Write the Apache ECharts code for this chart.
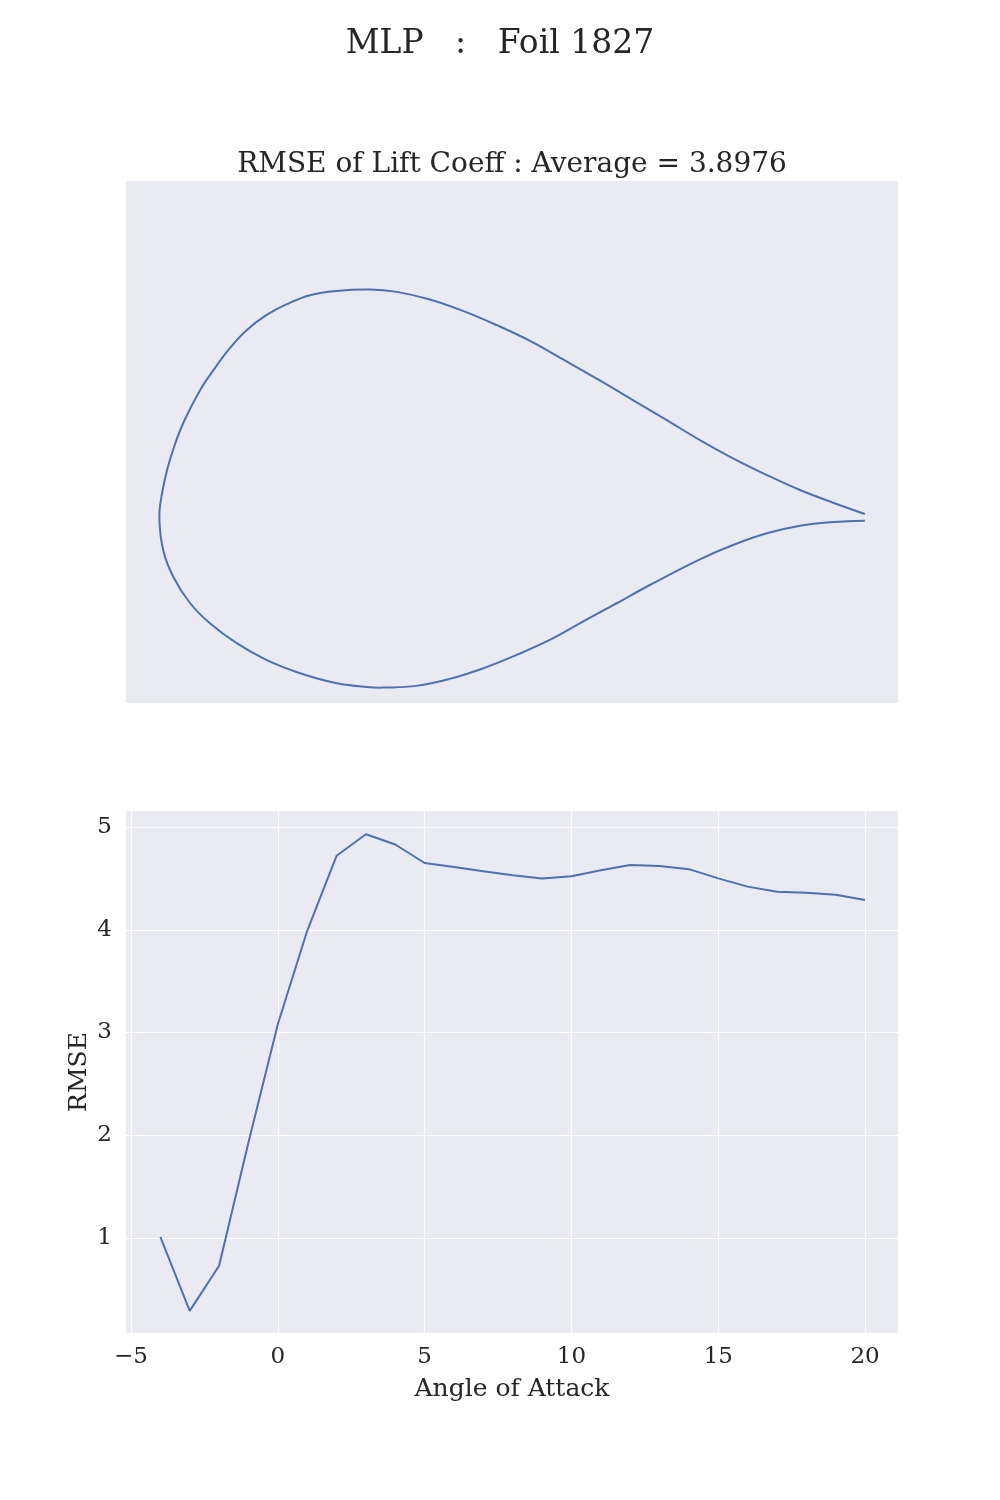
<!DOCTYPE html>
<html>
<head>
<meta charset="utf-8">
<title>MLP : Foil 1827</title>
<script src="https://cdn.jsdelivr.net/npm/echarts@6/dist/echarts.min.js"></script>
<style>
  html, body { margin: 0; padding: 0; background: #fff; }
  #chart { width: 1000px; height: 1500px; }
</style>
</head>
<body>
<div id="chart"></div>
<script>
// foil contour, upper surface TE -> LE, then lower surface LE -> TE
var foilX = [1.000, 0.955, 0.908, 0.861, 0.813, 0.766, 0.719, 0.671, 0.624, 0.572, 0.525, 0.478, 0.430, 0.383, 0.336, 0.298, 0.251,
  0.213, 0.180, 0.151, 0.123, 0.099, 0.076, 0.057, 0.034, 0.0213, 0.0111, 0.0037, -0.0007,
  0.0047, 0.019, 0.043, 0.071, 0.109, 0.151, 0.199, 0.251, 0.298, 0.317, 0.364, 0.411, 0.459, 0.506, 0.553, 0.600, 0.648, 0.695,
  0.766, 0.813, 0.861, 0.908, 0.955, 1.000];
var foilY = [0.0043, 0.0203, 0.0383, 0.0596, 0.0833, 0.1092, 0.1376, 0.166, 0.194, 0.2237, 0.2501, 0.2723, 0.2926, 0.3088, 0.3196, 0.3230, 0.3210,
  0.3149, 0.3021, 0.2865, 0.2652, 0.2393, 0.2085, 0.1801, 0.1353, 0.1030, 0.0698, 0.0366, 0.0007,
  -0.0468, -0.0847, -0.1224, -0.1508, -0.1791, -0.2028, -0.2217, -0.2359, -0.2416, -0.2421, -0.2397, -0.2298, -0.2146, -0.1957, -0.1745, -0.1485, -0.1224, -0.0965,
  -0.0600, -0.0397, -0.0231, -0.0123, -0.0071, -0.0052];

var angles = [-4, -3, -2, -1, 0, 1, 2, 3, 4, 5, 6, 7, 8, 9, 10, 11, 12, 13, 14, 15, 16, 17, 18, 19, 20];
var rmse = [1.01, 0.29, 0.73, 1.93, 3.08, 3.99, 4.72, 4.93, 4.83, 4.65, 4.61, 4.57, 4.53, 4.50, 4.52, 4.58, 4.63, 4.62, 4.59, 4.50, 4.42, 4.37, 4.36, 4.34, 4.29];

var xTicks = [-5, 0, 5, 10, 15, 20];
var yTicks = [1, 2, 3, 4, 5];

var font = 'DejaVu Serif';
var ink = '#262626';
var blue = '#4C72B0';

var foilData = foilX.map(function (x, i) { return [x, foilY[i]]; });
var rmseData = angles.map(function (a, i) { return [a, rmse[i]]; });

var chart = echarts.init(document.getElementById('chart'), null, { renderer: 'canvas' });
chart.setOption({
  backgroundColor: '#ffffff',
  animation: false,
  title: [
    {
      text: 'MLP   :   Foil 1827',
      left: 'center',
      top: 23,
      textStyle: { fontFamily: font, fontSize: 33, fontWeight: 'normal', color: ink }
    },
    {
      text: 'RMSE of Lift Coeff : Average = 3.8976',
      left: 507,
      textAlign: 'center',
      top: 146,
      textStyle: { fontFamily: font, fontSize: 28, fontWeight: 'normal', color: ink }
    }
  ],
  grid: [
    { left: 126, top: 181, width: 772, height: 522, show: true, backgroundColor: '#EAEAF2', borderWidth: 0 },
    { left: 126, top: 811, width: 772, height: 522, show: true, backgroundColor: '#EAEAF2', borderWidth: 0 }
  ],
  xAxis: [
    { gridIndex: 0, type: 'value', min: -0.048, max: 1.047, show: false },
    {
      gridIndex: 1, type: 'value', min: -5.17, max: 21.12,
      name: 'Angle of Attack', nameLocation: 'middle', nameGap: 44,
      nameTextStyle: { fontFamily: font, fontSize: 25, color: ink },
      axisLine: { show: false },
      axisTick: { show: false, customValues: xTicks },
      axisLabel: {
        customValues: xTicks, margin: 13, fontFamily: font, fontSize: 23, color: ink,
        formatter: function (v) { return v < 0 ? '\u2212' + Math.abs(v) : String(v); }
      },
      splitLine: { show: true, lineStyle: { color: '#ffffff', width: 1.2 } }
    }
  ],
  yAxis: [
    { gridIndex: 0, type: 'value', min: -0.264, max: 0.477, show: false },
    {
      gridIndex: 1, type: 'value', min: 0.075, max: 5.156,
      name: 'RMSE', nameLocation: 'middle', nameGap: 34, nameRotate: 90,
      nameMoveOverlap: false,
      nameTextStyle: { fontFamily: font, fontSize: 25, color: ink },
      axisLine: { show: false },
      axisTick: { show: false, customValues: yTicks },
      axisLabel: { customValues: yTicks, margin: 14, fontFamily: font, fontSize: 23, color: ink },
      splitLine: { show: true, lineStyle: { color: '#ffffff', width: 1.2 } }
    }
  ],
  series: [
    {
      // whole contour drawn once as one smoothed polyline
      type: 'custom',
      xAxisIndex: 0, yAxisIndex: 0,
      data: foilData,
      renderItem: function (params, api) {
        if (params.dataIndex !== 0) return null;
        var pts = foilData.map(function (d) { return api.coord(d); });
        return {
          type: 'polyline',
          shape: { points: pts, smooth: 0.4 },
          style: { stroke: blue, lineWidth: 2, fill: null }
        };
      }
    },
    {
      type: 'line',
      xAxisIndex: 1, yAxisIndex: 1,
      data: rmseData,
      showSymbol: false,
      lineStyle: { color: blue, width: 2 }
    }
  ]
});
</script>
</body>
</html>
